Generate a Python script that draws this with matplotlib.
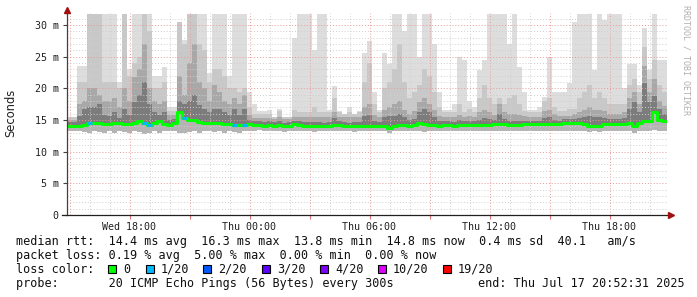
import numpy as np
import matplotlib
matplotlib.use("Agg")
import matplotlib.pyplot as plt
from matplotlib.lines import Line2D
from matplotlib.patches import Rectangle

# ---- data (hours since Wed 00:00, 15 min samples) ----
t_start = 14.875
step_h = 0.25

# median rtt, ms
median = [14.0, 14.0, 14.1, 14.2, 14.6, 14.5, 14.5, 14.4, 14.3, 14.6,
          14.5, 14.3, 14.4, 14.5, 14.8, 14.6, 14.2, 14.6, 14.8, 14.4,
          14.2, 14.5, 16.2, 15.3, 15.0, 15.0, 14.7, 14.6, 14.6, 14.5,
          14.5, 14.4, 14.3, 14.2, 14.2, 14.2, 14.3, 14.2, 14.2, 14.1,
          14.2, 14.1, 14.2, 14.0, 14.1, 14.3, 14.2, 14.1, 14.1, 14.0,
          14.1, 14.0, 14.1, 14.2, 14.2, 14.1, 14.0, 14.1, 14.1, 14.0,
          14.1, 14.1, 14.0, 14.1, 13.8, 14.1, 14.2, 14.2, 14.1, 14.2,
          14.6, 14.3, 14.2, 14.2, 14.1, 14.2, 14.2, 14.1, 14.2, 14.2,
          14.2, 14.2, 14.2, 14.2, 14.2, 14.4, 14.4, 14.4, 14.2, 14.2,
          14.2, 14.3, 14.3, 14.3, 14.3, 14.3, 14.3, 14.3, 14.3, 14.5,
          14.5, 14.5, 14.5, 14.4, 14.1, 14.1, 14.1, 14.3, 14.3, 14.3,
          14.3, 14.4, 14.5, 14.1, 14.6, 14.9, 14.9, 16.3, 15.0, 14.8]

# lost pings out of 20
loss = [0] * 120
for k in [4, 15, 16, 23, 33, 35]:
    loss[k] = 1

# smoke: lowest ping
ping_min = [13.3, 13.3, 13.2, 13.1, 13.0, 13.2, 13.1, 12.9, 13.2, 13.0,
            13.3, 13.1, 13.0, 13.2, 13.1, 12.8, 13.0, 13.2, 13.0, 13.3,
            13.3, 13.2, 13.0, 12.9, 13.1, 13.2, 13.0, 13.2, 13.3, 13.1,
            13.2, 13.0, 13.2, 13.1, 13.0, 13.2, 13.3, 13.2, 13.4, 13.3,
            13.3, 13.2, 13.3, 13.1, 13.3, 13.2, 13.3, 13.2, 13.3, 13.1,
            13.3, 13.2, 13.2, 13.3, 13.2, 13.3, 13.2, 13.1, 13.3, 13.2,
            13.2, 13.3, 13.2, 13.2, 12.9, 13.2, 13.3, 13.2, 13.3, 13.2,
            13.2, 13.1, 13.3, 13.2, 13.3, 13.2, 13.3, 13.2, 13.2, 13.3,
            13.2, 13.3, 13.2, 13.3, 13.2, 13.3, 13.2, 13.3, 13.2, 13.2,
            13.3, 13.2, 13.3, 13.2, 13.3, 13.2, 13.3, 13.3, 13.2, 13.3,
            13.3, 13.2, 13.3, 13.2, 13.1, 13.2, 13.1, 13.2, 13.3, 13.2,
            13.3, 13.2, 13.3, 13.0, 13.3, 13.2, 13.3, 13.4, 13.3, 13.3]

# smoke: highest ping
ping_max = [15.5, 15.5, 23.5, 23.5, 31.7, 31.7, 31.7, 31.7, 31.7, 31.7,
            21.0, 31.7, 23.0, 31.7, 31.7, 31.7, 31.7, 22.0, 22.0, 23.4,
            17.0, 17.0, 30.5, 27.6, 31.7, 31.7, 31.7, 31.7, 22.4, 31.7,
            31.7, 31.7, 22.0, 31.7, 31.7, 31.7, 19.5, 17.5, 16.5, 16.5,
            16.6, 15.5, 16.8, 15.5, 15.5, 28.0, 31.7, 31.7, 31.7, 26.0,
            31.7, 31.7, 16.6, 20.4, 16.5, 16.0, 17.0, 16.0, 16.5, 25.6,
            27.5, 19.5, 16.6, 25.6, 23.8, 31.7, 31.7, 29.0, 31.7, 31.7,
            25.0, 31.7, 31.7, 27.0, 19.5, 16.6, 16.6, 17.5, 25.0, 24.5,
            18.0, 17.0, 22.9, 24.5, 31.7, 31.7, 31.7, 31.7, 27.0, 31.7,
            23.4, 19.5, 16.6, 16.6, 17.0, 18.6, 25.0, 19.5, 19.5, 19.5,
            20.8, 30.5, 31.7, 31.7, 31.7, 22.9, 31.7, 30.8, 31.7, 31.7,
            31.7, 20.0, 23.8, 23.8, 20.5, 29.5, 22.9, 31.7, 24.5, 24.5]

# smoke: upper quantile bands
ping_q85 = [15.5, 15.5, 21.0, 21.0, 31.7, 31.7, 31.7, 21.0, 21.0, 21.0,
            20.0, 31.7, 22.0, 24.0, 25.0, 31.7, 29.0, 20.0, 20.0, 21.0,
            16.5, 16.5, 30.5, 27.0, 31.7, 31.7, 27.0, 26.0, 21.0, 23.0,
            23.0, 22.0, 20.0, 20.0, 19.5, 20.0, 17.0, 16.0, 16.0, 16.0,
            16.0, 15.5, 16.4, 15.5, 15.5, 16.6, 16.2, 16.2, 16.2, 17.0,
            16.2, 16.2, 16.2, 18.5, 16.2, 16.0, 16.2, 16.0, 16.2, 21.0,
            24.0, 17.5, 16.2, 20.0, 21.0, 23.0, 27.0, 21.0, 18.5, 19.5,
            20.5, 23.0, 22.0, 19.5, 17.0, 16.2, 16.2, 16.2, 17.5, 16.2,
            16.8, 16.2, 18.5, 20.5, 18.5, 17.5, 18.5, 17.5, 18.5, 19.0,
            17.5, 16.5, 16.2, 16.2, 16.2, 18.0, 18.5, 17.0, 16.5, 16.5,
            16.8, 16.8, 18.5, 19.5, 20.5, 18.5, 19.5, 18.5, 17.5, 17.5,
            17.5, 17.5, 20.5, 21.5, 19.5, 26.5, 21.5, 24.5, 20.5, 19.5]

ping_q70 = [15.0, 15.0, 17.5, 18.0, 20.0, 20.0, 19.0, 18.0, 18.0, 18.5,
            17.0, 20.0, 18.0, 21.8, 23.0, 27.0, 20.0, 18.0, 17.5, 18.0,
            15.8, 15.8, 22.0, 19.0, 24.0, 27.0, 21.0, 20.0, 18.0, 20.5,
            19.5, 18.0, 17.5, 18.5, 17.5, 19.0, 15.8, 15.3, 15.3, 15.3,
            15.3, 15.2, 15.4, 15.2, 15.2, 15.5, 15.4, 15.4, 15.4, 15.5,
            15.4, 15.4, 15.4, 16.3, 15.4, 15.4, 15.4, 15.4, 15.4, 17.0,
            17.5, 15.8, 15.4, 16.6, 17.0, 17.5, 18.0, 16.6, 16.0, 16.4,
            17.8, 18.5, 17.5, 16.6, 15.7, 15.4, 15.4, 15.4, 15.8, 15.4,
            15.6, 15.4, 16.2, 16.6, 16.2, 15.8, 17.5, 16.2, 16.0, 16.0,
            15.8, 15.6, 15.5, 15.5, 15.5, 16.4, 16.6, 15.9, 15.6, 15.7,
            15.7, 15.9, 16.2, 16.6, 17.0, 16.6, 16.6, 16.4, 16.0, 16.0,
            16.0, 16.2, 18.5, 19.5, 17.5, 23.5, 19.5, 21.5, 18.0, 17.2]

ping_q60 = [14.7, 14.7, 15.6, 16.8, 17.0, 17.0, 17.5, 15.8, 15.6, 16.2,
            15.3, 16.8, 15.8, 17.8, 19.0, 21.0, 17.5, 16.3, 15.8, 16.3,
            15.0, 15.2, 18.0, 17.5, 18.0, 19.0, 17.3, 16.8, 16.3, 16.8,
            16.8, 16.2, 15.8, 16.8, 15.8, 16.8, 15.0, 14.8, 14.8, 14.7,
            14.8, 14.7, 14.8, 14.6, 14.7, 14.9, 14.8, 14.7, 14.7, 14.7,
            14.7, 14.6, 14.7, 15.3, 14.8, 14.7, 14.6, 14.7, 14.7, 15.6,
            15.8, 14.9, 14.7, 15.5, 15.6, 15.6, 15.9, 15.4, 15.0, 15.1,
            16.3, 16.7, 16.2, 15.4, 14.9, 14.8, 14.8, 14.7, 15.0, 14.8,
            14.9, 14.8, 15.0, 15.3, 15.1, 15.0, 16.0, 15.2, 14.9, 14.9,
            14.9, 14.9, 14.9, 14.9, 14.9, 15.3, 15.5, 15.0, 14.9, 15.1,
            15.1, 15.1, 15.3, 15.5, 15.7, 15.5, 15.5, 15.3, 15.1, 15.1,
            15.1, 15.3, 16.8, 17.8, 16.3, 20.8, 17.8, 18.8, 16.8, 16.0]

loss_labels = ['0', '1/20', '2/20', '3/20', '4/20', '10/20', '19/20']
loss_colors = ['#00ff00', '#00b8ff', '#0059ff', '#5e00ff', '#7e00ff', '#dd00ff', '#ff0000']

tick_hours = [18, 24, 30, 36, 42]
tick_names = ['Wed 18:00', 'Thu 00:00', 'Thu 06:00', 'Thu 12:00', 'Thu 18:00']

line_rtt = 'median rtt:  14.4 ms avg  16.3 ms max  13.8 ms min  14.8 ms now  0.4 ms sd  40.1   am/s'
line_loss = 'packet loss: 0.19 % avg  5.00 % max  0.00 % min  0.00 % now'
line_probe = 'probe:       20 ICMP Echo Pings (56 Bytes) every 300s'
line_end = 'end: Thu Jul 17 20:52:31 2025'

# ---- figure ----
W, H = 697, 297
def fx(x):
    return x / W
def fy(y):
    return 1 - y / H

MONO = 'DejaVu Sans Mono'
fig = plt.figure(figsize=(W / 100, H / 100), dpi=100)
fig.patch.set_facecolor('white')
ax = fig.add_axes([fx(67), fy(215), 600 / W, 202 / H])

n = len(median)
t = t_start + step_h * np.arange(n + 1)
def ext(a):
    return np.append(a, a[-1])

med = ext(median)
ax.fill_between(t, ext(ping_min), ext(ping_max), step='post', color='#dddddd', lw=0, zorder=1)
ax.fill_between(t, med, ext(ping_q85), step='post', color='#c8c8c8', lw=0, zorder=2)
ax.fill_between(t, med, ext(ping_q70), step='post', color='#a8a8a8', lw=0, zorder=3)
ax.fill_between(t, med, ext(ping_q60), step='post', color='#7c7c7c', lw=0, zorder=4)
ax.fill_between(t, ext(ping_min), med, step='post', color='#b4b4b4', lw=0, zorder=4)

# grid on top of the smoke
for h in range(15, 45):
    major = (h % 3 == 0)
    ax.axvline(h, color='#e89a9a' if major else '#cfcfcf', lw=0.7,
               ls=(0, (1, 2)), zorder=5)
for v in range(1, 32):
    major = (v % 5 == 0)
    ax.axhline(v, color='#e89a9a' if major else '#cfcfcf', lw=0.7,
               ls=(0, (1, 2)), zorder=5)

# median line coloured by loss
ax.step(t, med, where='post', color=loss_colors[0], lw=2.2, zorder=6)
for i in range(n):
    if loss[i] > 0:
        ax.hlines(median[i], t[i], t[i + 1], color=loss_colors[loss[i]], lw=2.2, zorder=7)

ax.set_xlim(t_start, t_start + step_h * n)
ax.set_ylim(0, 31.9)
for s in ax.spines.values():
    s.set_visible(False)
ax.set_facecolor('white')

ax.set_yticks(range(0, 31, 5))
ax.set_yticklabels(['0'] + ['%d m' % v for v in range(5, 31, 5)])
ax.set_xticks(tick_hours)
ax.set_xticklabels(tick_names)
ax.set_xticks([21, 27, 33, 39], minor=True)
ax.tick_params(axis='y', length=3, width=0.8, color='#404040', pad=3, labelsize=7.2)
ax.tick_params(axis='x', which='both', length=3, width=0.8, color='#e07070', pad=2, labelsize=7.2)
for lab in ax.get_xticklabels() + ax.get_yticklabels():
    lab.set_family(MONO)
    lab.set_color('#202020')

# axis lines with arrows
fig.add_artist(Line2D([fx(67), fx(67)], [fy(215), fy(12)], color='#404040', lw=0.9))
fig.add_artist(Line2D([fx(62), fx(670)], [fy(215), fy(215)], color='#202020', lw=0.9))
fig.add_artist(Line2D([fx(67)], [fy(10)], marker='^', ms=4, color='#a01010', mec='#a01010'))
fig.add_artist(Line2D([fx(671)], [fy(215)], marker='>', ms=4, color='#a01010', mec='#a01010'))

# labels
fig.text(fx(11), fy(113), 'Seconds', rotation=90, ha='center', va='center',
         fontsize=8.3, family='DejaVu Sans', color='#202020')
fig.text(fx(686), fy(5), 'RRDTOOL / TOBI OETIKER', rotation=270, ha='center', va='top',
         fontsize=6.0, family=MONO, color='#b0b0b0')

# legend block
fs = 8.5
fig.text(fx(16), fy(245), line_rtt, family=MONO, fontsize=fs, va='baseline', color='#101010')
fig.text(fx(16), fy(259), line_loss, family=MONO, fontsize=fs, va='baseline', color='#101010')
fig.text(fx(16), fy(273), 'loss color:', family=MONO, fontsize=fs, va='baseline', color='#101010')
fig.text(fx(16), fy(287), line_probe, family=MONO, fontsize=fs, va='baseline', color='#101010')
fig.text(fx(478), fy(287), line_end, family=MONO, fontsize=fs, va='baseline', color='#101010')

box_x = [108, 146, 203, 262, 320, 378, 443]
for bx, lab, col in zip(box_x, loss_labels, loss_colors):
    fig.add_artist(Rectangle((fx(bx), fy(273)), 8 / W, 8 / H, transform=fig.transFigure,
                             facecolor=col, edgecolor='black', lw=0.8))
    fig.text(fx(bx + 15), fy(273), lab, family=MONO, fontsize=fs, va='baseline', color='#101010')

fig.savefig('out.png', dpi=100, facecolor='white')
